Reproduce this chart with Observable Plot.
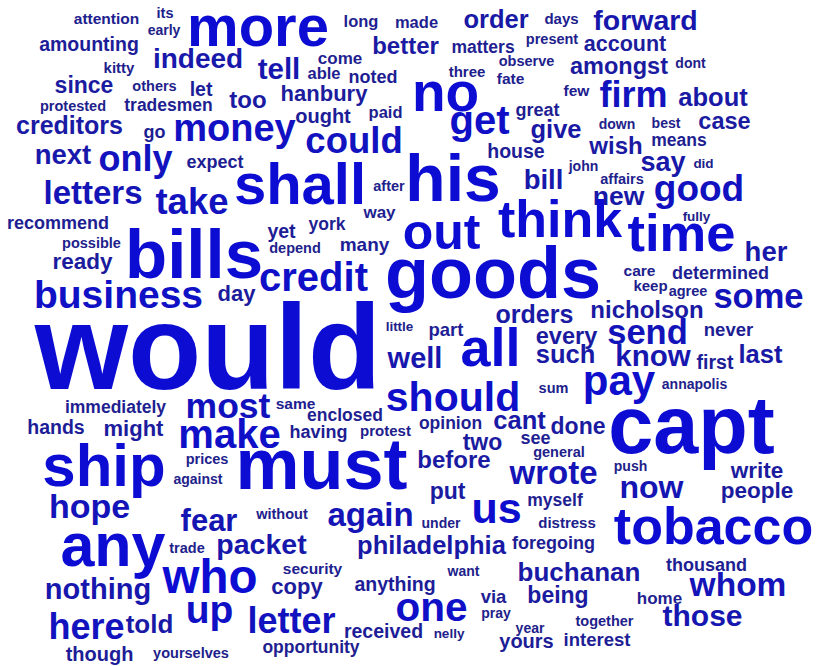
<!DOCTYPE html>
<html>
<head>
<meta charset="utf-8">
<script src="https://cdn.jsdelivr.net/npm/d3@7"></script>
<script src="https://cdn.jsdelivr.net/npm/@observablehq/plot@0.6"></script>
<style>
  html, body { margin: 0; padding: 0; background: #fff; }
  #chart svg { display: block; background: #fff; }
</style>
</head>
<body>
<div id="chart"></div>
<script>
// Word cloud data: word, layout position (x centre, y baseline) and weight (font size)
const words = [
  "attention","its","early","more","long","made","order","days","forward","amounting",
  "indeed","better","matters","present","account","kitty","tell","come","able","noted",
  "observe","amongst","dont","since","others","let","three","fate","no","firm",
  "about","protested","tradesmen","too","hanbury","few","paid","ought","great","down",
  "best","case","creditors","go","money","could","get","give","wish","means",
  "next","only","expect","house","say","did","shall","his","bill","john",
  "affairs","letters","take","after","new","good","recommend","way","think","fully",
  "yet","york","depend","many","out","time","her","possible","bills","goods",
  "ready","credit","care","determined","keep","agree","business","day","some","orders",
  "nicholson","would","little","part","every","send","never","all","such","know",
  "first","last","well","pay","sum","annapolis","immediately","most","same","should",
  "enclosed","cant","capt","hands","might","make","having","protest","opinion","done",
  "see","two","general","prices","ship","must","before","against","wrote","push",
  "write","put","now","people","hope","myself","fear","without","under","us",
  "distress","again","tobacco","trade","packet","philadelphia","foregoing","any","security","who",
  "copy","want","thousand","buchanan","anything","whom","nothing","via","being","home",
  "one","up","letter","pray","together","those","here","told","received","nelly",
  "year","interest","yours","opportunity","though","yourselves"
];
const wordX = [
  106,164.5,163.5,257.5,360.5,416,495.5,561,645,88.5,
  197.5,405,482.5,551.5,624.5,118.5,278.5,339.5,323.5,372.5,
  526,618.5,690,83.5,154,200.5,466.5,510,445,633,
  712.5,72.5,168,247.5,323.5,576,385,322.5,537,616.5,
  665.5,724,69,154,234,353.5,479,555.5,615.5,678.5,
  62.5,135,214.5,515.5,662.5,703,299.5,452.5,543,583,
  621.5,92.5,191.5,388.5,618,698.5,57.5,379,559.5,696,
  281,326.5,294.5,364,441,681,765.5,91,193.5,492.5,
  82,313,639,720,650,687.5,118,236,758,534,
  646.5,207.5,399,445.5,566,647,728,490,565,652.5,
  714.5,760,414.5,618.5,553,694,115,227.5,295,452.5,
  344.5,519,691,55.5,133,229,318,385,450,577.5,
  535,482,558.5,206.5,103.5,321,453.5,197.5,553,630,
  756.5,447,651,756.5,89,554.5,208.5,281.5,440.5,496,
  566.5,370,713,186.5,261,431,553,112.5,312,209.5,
  296.5,463,706,578.5,394.5,737.5,97.5,493,557.5,659,
  431,209,291,495.5,604,702,86,149,383,448.5,
  529.5,596.5,526,310.5,99,190.5
];
const wordY = [
  23,17,34,45,26,27,27,23,29,50,
  67,53,52,43,50,72,78,63,78,82,
  65,73,67,92,90,95,76,83,110,106,
  105,110,110,107,100,95,117,122,115,128,
  127,128,133,137,140,152,133,137,153,145,
  163,170,167,157,170,167,203,200,188,170,
  183,203,213,190,204,200,228,217,236,220,
  237,229,252,250,248,250,260,247,277,297,
  268,290,275,278,290,295,307,300,307,322,
  317,388,330,335,343,343,335,365,362,365,
  368,362,367,394,392,388,412,417,408,410,
  420,428,452,433,435,447,437,435,428,433,
  443,449,456,463,485,488,467,483,483,470,
  477,498,497,497,517,505,530,518,527,522,
  527,525,543,552,553,553,548,565,573,592,
  593,575,570,580,590,595,598,602,602,603,
  620,622,632,617,625,625,638,632,637,637,
  632,645,647,652,660,657
];
const wordWeight = [
  15.5,14.5,14,58,16.5,16.5,25.5,15,28.5,19.5,
  28,24,17.5,14.5,21.5,15,29.5,17,16.5,18,
  14.5,23.5,14,23,14.5,19.5,15,15.5,55,36,
  25.5,14.5,17.5,24,22,15.5,16.5,20,18,14,
  14,23.5,25,18,38,36.5,40,25.5,24,17.5,
  27.5,36,18,19.5,27,13.5,58,66,27.5,14,
  14.5,33,36.5,14.5,26.5,37,18,17,52,13.5,
  19.5,17.5,14.5,19,50,52.5,27.5,14.5,69,72,
  22.5,40,15.5,18,15,14.5,39,22,34.5,25,
  24,120,13.5,18.5,23.5,34.5,18.5,54,25.5,29.5,
  19.5,25.5,29,42,14.5,14,17.5,35.5,15.5,41,
  17.5,25.5,81,19.5,22,40,18,15,17.5,23,
  18,23,14.5,14.5,60,72,24,14,33,14,
  22.5,23,32,22.5,34,17.5,31,14.5,14,43,
  15,33,52,14.5,28.5,25.5,18,61,15.5,47.5,
  22,14,18,26,19.5,33.5,29,18.5,23,17,
  40.5,39,36,14,14.5,30,36,26,19.5,13.5,
  14,18.5,20,17.5,20,14.5
];

const data = words.map((w, i) => ({word: w, x: wordX[i], y: wordY[i], weight: wordWeight[i]}));

const chart = Plot.plot({
  width: 820,
  height: 666,
  margin: 0,
  style: {background: "#fff"},
  x: {domain: [0, 820], range: [0, 820], axis: null},
  y: {domain: [0, 666], range: [0, 666], axis: null},
  color: {type: "linear", domain: [14, 45], range: ["#21218a", "#0c0cd3"], clamp: true},
  marks: [
    Plot.text(data, {
      x: "x",
      y: "y",
      text: "word",
      fontSize: d => d.weight,
      fill: d => d.weight,
      textAnchor: "middle",
      lineAnchor: "bottom",
      fontWeight: "bold",
      fontFamily: "'Liberation Sans', Arial, Helvetica, sans-serif"
    })
  ]
});
document.getElementById("chart").appendChild(chart);
</script>
</body>
</html>
